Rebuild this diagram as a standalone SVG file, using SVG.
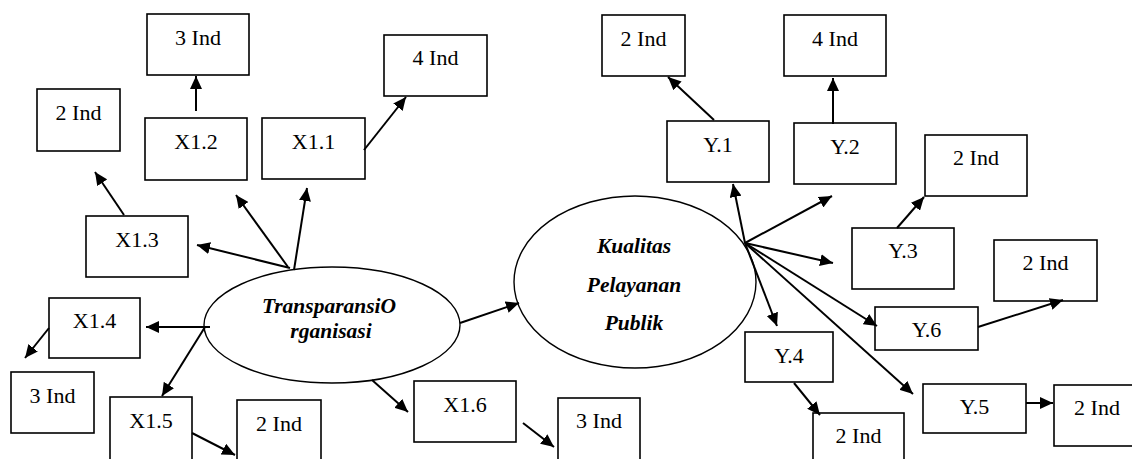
<svg xmlns="http://www.w3.org/2000/svg" width="1132" height="459" viewBox="0 0 1132 459">
<style>
.box rect{fill:#fff;stroke:#000;stroke-width:1.6}
.box text{font-family:"Liberation Serif","Times New Roman",serif;font-size:22px;text-anchor:middle;fill:#000}
.lat ellipse{fill:#fff;stroke:#000;stroke-width:1.4}
.lat text{font-family:"Liberation Serif","Times New Roman",serif;font-size:21.5px;font-weight:bold;font-style:italic;text-anchor:middle;fill:#000}
#connectors line{stroke:#000;stroke-width:2;marker-end:url(#ah)}
</style>
<defs>
<marker id="ah" markerUnits="userSpaceOnUse" markerWidth="13" markerHeight="12" refX="13" refY="6" orient="auto">
<path d="M0,0 L13,6 L0,12 z" fill="#000"/>
</marker>
</defs>
<rect width="1132" height="459" fill="#fff"/>
<g id="nodes">
<g id="x12ind" class="box"><rect x="147" y="14" width="102" height="61"/><text x="198" y="45">3 Ind</text></g>
<g id="x13ind" class="box"><rect x="37" y="89" width="83" height="62"/><text x="78.5" y="120">2 Ind</text></g>
<g id="x11ind" class="box"><rect x="384" y="35" width="103" height="61"/><text x="435.5" y="65">4 Ind</text></g>
<g id="x12" class="box"><rect x="145" y="118" width="102" height="62"/><text x="196" y="149">X1.2</text></g>
<g id="x11" class="box"><rect x="262" y="118" width="103" height="61"/><text x="313.5" y="149">X1.1</text></g>
<g id="x13" class="box"><rect x="86" y="216" width="102" height="61"/><text x="137" y="247">X1.3</text></g>
<g id="x14" class="box"><rect x="49" y="298" width="91" height="60"/><text x="94.5" y="328">X1.4</text></g>
<g id="x14ind" class="box"><rect x="11" y="372" width="83" height="61"/><text x="52.5" y="403">3 Ind</text></g>
<g id="x15" class="box"><rect x="110" y="397" width="82" height="70"/><text x="151" y="428">X1.5</text></g>
<g id="x15ind" class="box"><rect x="237" y="400" width="84" height="70"/><text x="279" y="431">2 Ind</text></g>
<g id="x16" class="box"><rect x="414" y="381" width="102" height="61"/><text x="465" y="412">X1.6</text></g>
<g id="x16ind" class="box"><rect x="558" y="398" width="82" height="70"/><text x="599" y="428">3 Ind</text></g>
<g id="transparansi" class="lat"><ellipse cx="332" cy="325" rx="128" ry="58"/><text x="329" y="313">TransparansiO</text><text x="331" y="338">rganisasi</text></g>
<g id="kualitas" class="lat"><ellipse cx="635" cy="282" rx="121" ry="86"/><text x="634" y="253">Kualitas</text><text x="634" y="292">Pelayanan</text><text x="634" y="330">Publik</text></g>
<g id="y1ind" class="box"><rect x="602" y="15" width="83" height="61"/><text x="643.5" y="46">2 Ind</text></g>
<g id="y2ind" class="box"><rect x="784" y="15" width="102" height="61"/><text x="835" y="46">4 Ind</text></g>
<g id="y1" class="box"><rect x="667" y="121" width="102" height="61"/><text x="718" y="152">Y.1</text></g>
<g id="y2" class="box"><rect x="794" y="123" width="102" height="61"/><text x="845" y="154">Y.2</text></g>
<g id="y3ind" class="box"><rect x="925" y="135" width="102" height="61"/><text x="976" y="165">2 Ind</text></g>
<g id="y3" class="box"><rect x="852" y="228" width="102" height="61"/><text x="903" y="258">Y.3</text></g>
<g id="y6ind" class="box"><rect x="994" y="240" width="103" height="61"/><text x="1045.5" y="270">2 Ind</text></g>
<g id="y6" class="box"><rect x="875" y="307" width="103" height="43"/><text x="926.5" y="337">Y.6</text></g>
<g id="y4" class="box"><rect x="745" y="332" width="88" height="50"/><text x="789" y="363">Y.4</text></g>
<g id="y4ind" class="box"><rect x="813" y="413" width="91" height="60"/><text x="858.5" y="443">2 Ind</text></g>
<g id="y5" class="box"><rect x="923" y="384" width="103" height="49"/><text x="974.5" y="414">Y.5</text></g>
<g id="y5ind" class="box"><rect x="1054" y="385" width="86" height="61"/><text x="1097" y="415">2 Ind</text></g>
</g>
<g id="connectors">
<line x1="196" y1="111" x2="196" y2="76"/>
<line x1="364" y1="150" x2="406" y2="97"/>
<line x1="124" y1="215" x2="95" y2="172"/>
<line x1="288" y1="267" x2="236" y2="195"/>
<line x1="294" y1="270" x2="307" y2="188"/>
<line x1="290" y1="268" x2="197" y2="245"/>
<line x1="210" y1="327" x2="146" y2="327"/>
<line x1="49" y1="328" x2="25" y2="358"/>
<line x1="205" y1="327" x2="162" y2="396"/>
<line x1="192" y1="433" x2="235" y2="455"/>
<line x1="460" y1="323" x2="519" y2="303"/>
<line x1="372" y1="380" x2="408" y2="412"/>
<line x1="523" y1="423" x2="554" y2="447"/>
<line x1="745" y1="243" x2="733" y2="184"/>
<line x1="745" y1="243" x2="832" y2="196"/>
<line x1="745" y1="243" x2="833" y2="263"/>
<line x1="745" y1="243" x2="877" y2="326"/>
<line x1="745" y1="243" x2="777" y2="326"/>
<line x1="745" y1="243" x2="913" y2="394"/>
<line x1="714" y1="120" x2="668" y2="77"/>
<line x1="833" y1="124" x2="833" y2="78"/>
<line x1="897" y1="228" x2="924" y2="197"/>
<line x1="978" y1="327" x2="1063" y2="300"/>
<line x1="794" y1="383" x2="820" y2="415"/>
<line x1="1026" y1="403" x2="1053" y2="403"/>
</g>
</svg>
